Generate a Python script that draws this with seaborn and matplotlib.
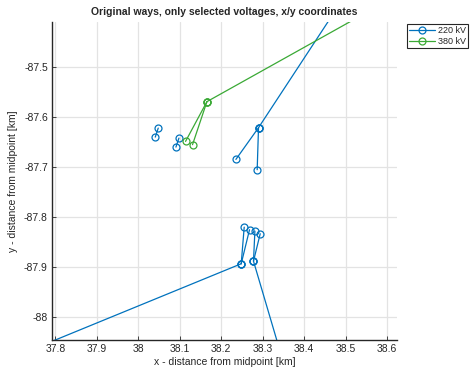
import matplotlib
matplotlib.use("Agg")
import matplotlib.pyplot as plt
from matplotlib.lines import Line2D
from matplotlib.ticker import FuncFormatter
import pandas as pd
import seaborn as sns

# Node coordinates of each power-line way (km from midpoint)
way_id = [1, 1, 2, 2, 3, 3, 4, 4, 5, 5, 6, 6, 7, 7, 8, 8, 9, 9, 10, 10, 11, 11,
          12, 12, 13, 13, 14, 14]
voltage = ["220 kV"] * 22 + ["380 kV"] * 6
x_km = [37.500, 38.2482, 38.2482, 38.2554, 38.2482, 38.2682,
        38.2778, 38.2812, 38.2778, 38.2940, 38.2778, 38.3712,
        38.2899, 38.5437, 38.2899, 38.2354, 38.2899, 38.2867,
        38.0482, 38.0410, 38.0981, 38.0908,
        38.1655, 38.8000, 38.1655, 38.1140, 38.1655, 38.1308]
y_km = [-88.147, -87.8926, -87.8926, -87.8194, -87.8926, -87.8246,
        -87.8874, -87.8274, -87.8874, -87.8326, -87.8874, -88.150,
        -87.6206, -87.3000, -87.6206, -87.6840, -87.6206, -87.7046,
        -87.6214, -87.6394, -87.6414, -87.6594,
        -87.5686, -87.2748, -87.5686, -87.6480, -87.5686, -87.6546]

levels = ["220 kV", "380 kV"]
colors = ["#0072BD", "#3AA935"]

x_ticks = [37.8, 37.9, 38.0, 38.1, 38.2, 38.3, 38.4, 38.5, 38.6]
y_ticks = [-88.0, -87.9, -87.8, -87.7, -87.6, -87.5]

df = pd.DataFrame({"way": way_id, "voltage": voltage, "x": x_km, "y": y_km})

sns.set_style("whitegrid")
plt.rcParams["font.family"] = ["Liberation Sans", "DejaVu Sans"]

fig = plt.figure(figsize=(4.7, 3.7), dpi=100)
ax = fig.add_axes([0.1106, 0.0811, 0.7334, 0.8594])

# one call per voltage level so the open circles take the line colour
for level, color in zip(levels, colors):
    sns.lineplot(data=df[df["voltage"] == level], x="x", y="y", units="way",
                 estimator=None, sort=False, color=color,
                 marker="o", markersize=5, mfc="none", mec=color, mew=0.9,
                 linewidth=0.9, legend=False, ax=ax)

ax.set_xlim(37.792, 38.623)
ax.set_ylim(-88.045, -87.4094)
ax.set_xticks(x_ticks)
ax.set_yticks(y_ticks)
fmt = FuncFormatter(lambda v, p: f"{v:g}")
ax.xaxis.set_major_formatter(fmt)
ax.yaxis.set_major_formatter(fmt)

ax.grid(True, color="#e3e3e3", linewidth=0.9)
for side in ["top", "right"]:
    ax.spines[side].set_visible(False)
for side in ["left", "bottom"]:
    ax.spines[side].set_color("#262626")
    ax.spines[side].set_linewidth(1.0)
ax.tick_params(direction="in", length=3, width=0.6, colors="#262626",
               labelsize=7.5, pad=3, left=True, bottom=True)

ax.set_xlabel("x - distance from midpoint [km]", fontsize=7.5, color="#262626", labelpad=2)
ax.set_ylabel("y - distance from midpoint [km]", fontsize=7.5, color="#262626", labelpad=4)
ax.set_title("Original ways, only selected voltages, x/y coordinates",
             fontsize=7.5, fontweight="bold", pad=5)

handles = [Line2D([0], [0], color=c, marker="o", markersize=5, mfc="none",
                  mec=c, mew=0.9, linewidth=0.9) for c in colors]
leg = ax.legend(handles, levels, loc="upper left", bbox_to_anchor=(1.029, 0.993),
                fontsize=6.5, frameon=True, fancybox=False, framealpha=1,
                edgecolor="#262626", handlelength=2.9, handletextpad=0.3,
                borderpad=0.25, labelspacing=0.15, borderaxespad=0)
leg.get_frame().set_linewidth(0.8)

fig.savefig("out.png", dpi=100)
